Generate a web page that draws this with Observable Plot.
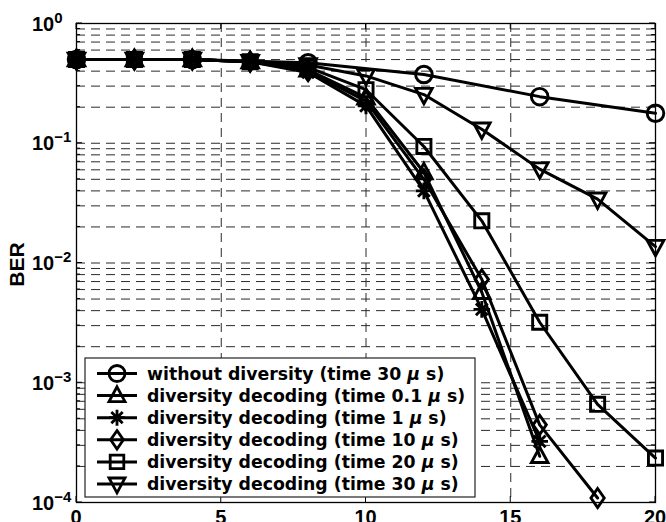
<!DOCTYPE html>
<html>
<head>
<meta charset="utf-8">
<script src="https://cdn.jsdelivr.net/npm/d3@7"></script>
<script src="https://cdn.jsdelivr.net/npm/@observablehq/plot@0.6"></script>
<style>
  html, body { margin: 0; padding: 0; background: #fff; overflow: hidden; }
  #wrap { width: 666px; height: 522px; overflow: hidden; position: relative; background: #fff; }
</style>
</head>
<body>
<div id="wrap"></div>
<script>
// SNR steps (x) and bit error rates for each receiver setting
const snrSteps = [0, 2, 4, 6, 8, 10, 12, 14, 16, 18, 20];
const snrStepsWithout = [0, 4, 8, 12, 16, 20];
const berWithout = [0.5, 0.5, 0.47, 0.375, 0.245, 0.178];
const berTime01 = [0.5, 0.5, 0.5, 0.48, 0.41, 0.24, 0.057, 0.0057, 0.000243];
const berTime1 = [0.5, 0.5, 0.5, 0.48, 0.39, 0.205, 0.040, 0.0041, 0.000324];
const berTime10 = [0.5, 0.5, 0.5, 0.48, 0.40, 0.225, 0.050, 0.0073, 0.000445, 0.000109];
const berTime20 = [0.5, 0.5, 0.5, 0.48, 0.43, 0.28, 0.094, 0.0225, 0.0032, 0.00066, 0.000235];
const berTime30 = [0.5, 0.5, 0.5, 0.48, 0.45, 0.365, 0.255, 0.131, 0.0608, 0.0341, 0.0137];

const seriesLabels = [
  ["without diversity (time 30", "s)"],
  ["diversity decoding (time 0.1", "s)"],
  ["diversity decoding (time 1", "s)"],
  ["diversity decoding (time 10", "s)"],
  ["diversity decoding (time 20", "s)"],
  ["diversity decoding (time 30", "s)"]
];
const xTickValues = [0, 5, 10, 15, 20];
const yDecades = [-4, -3, -2, -1, 0];

// Hollow marker shapes drawn as Plot symbols
const shape = (fn) => ({ draw(ctx, size) { fn(ctx, Math.sqrt(size / Math.PI)); } });
const markCircle = shape((c, r) => { c.moveTo(r, 0); c.arc(0, 0, r, 0, 2 * Math.PI); });
const markTriUp = shape((c, r) => { c.moveTo(0, -r * 1.1); c.lineTo(r, r * 0.75); c.lineTo(-r, r * 0.75); c.closePath(); });
const markTriDown = shape((c, r) => { c.moveTo(0, r * 1.1); c.lineTo(r, -r * 0.75); c.lineTo(-r, -r * 0.75); c.closePath(); });
const markSquare = shape((c, r) => { const s = r * 0.85; c.rect(-s, -s, 2 * s, 2 * s); });
const markDiamond = shape((c, r) => { c.moveTo(0, -r * 1.15); c.lineTo(r * 0.8, 0); c.lineTo(0, r * 1.15); c.lineTo(-r * 0.8, 0); c.closePath(); });
const markStar = shape((c, r) => {
  for (let i = 0; i < 4; i++) {
    const a = i * Math.PI / 4, dx = Math.cos(a) * r, dy = Math.sin(a) * r;
    c.moveTo(-dx, -dy); c.lineTo(dx, dy);
  }
});

const series = [
  { xs: snrStepsWithout, ys: berWithout, symbol: markCircle },
  { xs: snrSteps, ys: berTime01, symbol: markTriUp },
  { xs: snrSteps, ys: berTime1, symbol: markStar },
  { xs: snrSteps, ys: berTime10, symbol: markDiamond },
  { xs: snrSteps, ys: berTime20, symbol: markSquare },
  { xs: snrSteps, ys: berTime30, symbol: markTriDown }
].map((s, i) => ({ ...s, label: seriesLabels[i], rows: s.ys.map((b, j) => ({ x: s.xs[j], ber: b })) }));

// Dashed grid: every 1..9 multiple of each decade, plus inner x majors
const yGrid = [];
for (const d of yDecades.slice(0, -1)) for (let m = 1; m <= 9; m++) yGrid.push(m * 10 ** d);
yGrid.push(1);
const xGrid = xTickValues.slice(1, -1);

const lineMarks = series.map(s => Plot.line(s.rows, { x: "x", y: "ber", stroke: "black", strokeWidth: 3 }));
const dotMarks = series.map(s => Plot.dot(s.rows, { x: "x", y: "ber", symbol: s.symbol, r: 8.3, stroke: "black", strokeWidth: 2.9, fill: "none" }));

const chart = Plot.plot({
  width: 666,
  height: 540,
  marginLeft: 76,
  marginRight: 11,
  marginTop: 23,
  marginBottom: 38,
  style: { background: "white", overflow: "visible" },
  x: { domain: [0, 20], axis: null },
  y: { type: "log", domain: [1e-4, 1], axis: null },
  marks: [
    Plot.ruleY(yGrid, { stroke: "#2a2a2a", strokeWidth: 1, strokeDasharray: "9,6" }),
    Plot.ruleX(xGrid, { stroke: "#2a2a2a", strokeWidth: 1, strokeDasharray: "9,6" }),
    ...lineMarks,
    ...dotMarks,
    Plot.frame({ stroke: "black", strokeWidth: 1.3 })
  ]
});

document.getElementById("wrap").appendChild(chart);

const X = v => chart.scale("x").apply(v);
const Y = v => chart.scale("y").apply(v);
const svg = d3.select(chart);
const x0 = X(0), x1 = X(20), yTop = Y(1), yBot = Y(1e-4);
const axisFont = "'Liberation Sans', Arial, sans-serif";

// Inward ticks on all four sides
const ticks = svg.append("g").attr("stroke", "black").attr("stroke-width", 1);
for (const v of xTickValues) {
  ticks.append("line").attr("x1", X(v)).attr("x2", X(v)).attr("y1", yBot).attr("y2", yBot - 6);
  ticks.append("line").attr("x1", X(v)).attr("x2", X(v)).attr("y1", yTop).attr("y2", yTop + 6);
}
for (const v of yGrid) {
  const major = Math.abs(Math.log10(v) - Math.round(Math.log10(v))) < 1e-9;
  const len = major ? 6 : 4;
  ticks.append("line").attr("x1", x0).attr("x2", x0 + len).attr("y1", Y(v)).attr("y2", Y(v));
  ticks.append("line").attr("x1", x1).attr("x2", x1 - len).attr("y1", Y(v)).attr("y2", Y(v));
}

// Tick labels
const labels = svg.append("g").attr("font-family", axisFont).attr("font-weight", "bold").attr("fill", "black");
for (const d of yDecades) {
  const t = labels.append("text").attr("x", 32).attr("y", Y(10 ** d) + 7.5)
    .attr("text-anchor", "start").attr("font-size", 20);
  t.append("tspan").text("10");
  t.append("tspan").attr("dy", -8).attr("font-size", 15).text(d === 0 ? "0" : "\u2212" + (-d));
}
for (const v of xTickValues) {
  labels.append("text").attr("x", X(v)).attr("y", yBot + 22).attr("text-anchor", "middle").attr("font-size", 20).text(v);
}
labels.append("text")
  .attr("transform", `translate(16,${(yTop + yBot) / 2 + 2}) rotate(-90)`)
  .attr("text-anchor", "middle").attr("dominant-baseline", "central")
  .attr("font-size", 21).text("BER");

// Legend box in the lower left of the axes
const leg = svg.append("g").attr("text-anchor", "start");
const boxL = 85, boxT = 358, boxR = 475, boxB = 497;
leg.append("rect").attr("x", boxL).attr("y", boxT).attr("width", boxR - boxL).attr("height", boxB - boxT)
  .attr("fill", "white").attr("stroke", "#222").attr("stroke-width", 1.2);
const rowTop = 373.5, rowStep = 22.1;
series.forEach((s, i) => {
  const cy = rowTop + i * rowStep;
  leg.append("line").attr("x1", 97).attr("x2", 137).attr("y1", cy).attr("y2", cy)
    .attr("stroke", "black").attr("stroke-width", 3);
  const path = d3.path();
  s.symbol.draw(path, 64 * Math.PI);
  leg.append("path").attr("d", path.toString()).attr("transform", `translate(117,${cy})`)
    .attr("fill", "none").attr("stroke", "black").attr("stroke-width", 2.8);
  const t = leg.append("text").attr("x", 147).attr("y", cy + 6).attr("text-anchor", "start")
    .attr("font-family", "'DejaVu Sans', sans-serif").attr("font-weight", "bold").attr("font-size", 17.3);
  t.append("tspan").text(s.label[0] + " ");
  t.append("tspan").attr("font-style", "italic").text("\u03bc");
  t.append("tspan").text(" " + s.label[1]);
});
</script>
</body>
</html>
